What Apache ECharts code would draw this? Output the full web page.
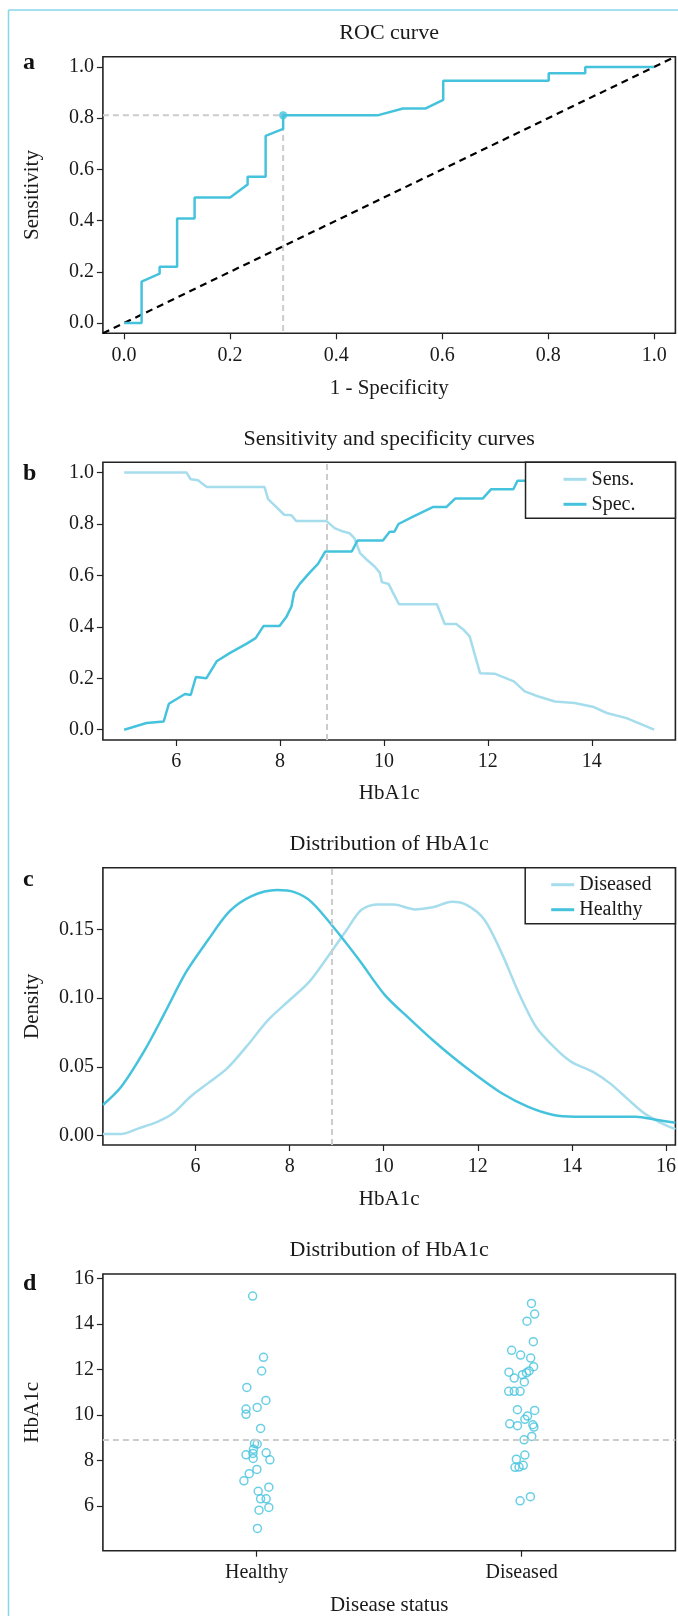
<!DOCTYPE html>
<html>
<head>
<meta charset="utf-8">
<script src="https://cdn.jsdelivr.net/npm/echarts@6.0.0/dist/echarts.min.js"></script>
<style>
  html, body { margin: 0; padding: 0; background: #fff; }
  #chart { width: 678px; height: 1616px; }
</style>
</head>
<body>
<div id="chart"></div>
<script>
const FONT = 'Liberation Serif';
const DARK = '#45c3dd';
const LIGHT = '#a6dded';
const GUIDE = '#cccccc';
const INK = '#1a1a1a';

// a: ROC curve
const rocFpr = [0, 0.033, 0.033, 0.067, 0.067, 0.1, 0.1, 0.133, 0.133, 0.2, 0.233, 0.233, 0.267, 0.267, 0.3, 0.3, 0.478, 0.526, 0.569, 0.602, 0.602, 0.801, 0.801, 0.87, 0.87, 1.0];
const rocTpr = [0, 0, 0.162, 0.193, 0.22, 0.22, 0.408, 0.408, 0.49, 0.49, 0.541, 0.571, 0.571, 0.731, 0.758, 0.811, 0.811, 0.838, 0.838, 0.871, 0.946, 0.946, 0.975, 0.975, 1.0, 1.0];
const cutFpr = 0.3;
const cutTpr = 0.811;
const cutoff = 8.9;
const unitRange = [-0.04, 1.04];
const unitTicks = [0, 0.2, 0.4, 0.6, 0.8, 1.0];

// b: sensitivity / specificity vs HbA1c
const sensX = [5.0, 6.2, 6.28, 6.42, 6.59, 7.70, 7.77, 7.93, 8.08, 8.22, 8.31, 8.89, 9.05, 9.18, 9.34, 9.43, 9.54, 9.66, 9.82, 9.92, 9.96, 10.09, 10.17, 10.29, 11.02, 11.17, 11.39, 11.52, 11.65, 11.74, 11.85, 12.13, 12.50, 12.71, 12.96, 13.29, 13.67, 14.04, 14.29, 14.67, 15.2];
const sensY = [1.0, 1.0, 0.974, 0.97, 0.944, 0.944, 0.897, 0.866, 0.836, 0.834, 0.812, 0.812, 0.784, 0.773, 0.764, 0.745, 0.687, 0.663, 0.635, 0.611, 0.574, 0.567, 0.534, 0.488, 0.488, 0.411, 0.411, 0.391, 0.363, 0.298, 0.22, 0.218, 0.188, 0.149, 0.13, 0.11, 0.104, 0.088, 0.065, 0.045, 0.0];
const specX = [5.0, 5.43, 5.76, 5.86, 6.17, 6.28, 6.38, 6.58, 6.78, 7.03, 7.35, 7.53, 7.68, 7.99, 8.12, 8.22, 8.27, 8.38, 8.57, 8.73, 8.87, 9.38, 9.49, 9.98, 10.11, 10.2, 10.28, 10.56, 10.94, 11.2, 11.37, 11.9, 12.06, 12.49, 12.57, 13.2, 13.4, 15.2];
const specY = [0, 0.026, 0.032, 0.101, 0.139, 0.135, 0.205, 0.2, 0.266, 0.298, 0.334, 0.356, 0.403, 0.403, 0.438, 0.479, 0.534, 0.567, 0.611, 0.645, 0.693, 0.693, 0.736, 0.736, 0.77, 0.77, 0.8, 0.829, 0.866, 0.866, 0.899, 0.899, 0.935, 0.935, 0.968, 0.968, 1.0, 1.0];
const hbTicksB = [6, 8, 10, 12, 14];

// c: density of HbA1c
const healthyDensX = [4.03, 4.42, 4.92, 5.34, 5.80, 6.26, 6.72, 7.18, 7.73, 8.10, 8.46, 8.92, 9.47, 10.03, 10.58, 11.04, 11.5, 11.96, 12.51, 13.06, 13.61, 14.07, 14.71, 15.36, 15.82, 16.2];
const healthyDens = [0.0223, 0.0356, 0.0622, 0.0889, 0.119, 0.142, 0.163, 0.174, 0.1785, 0.177, 0.170, 0.152, 0.128, 0.102, 0.084, 0.0695, 0.0562, 0.0441, 0.0308, 0.0211, 0.015, 0.0138, 0.0138, 0.0138, 0.0114, 0.0094];
const diseasedDensX = [4.03, 4.42, 4.79, 5.20, 5.52, 5.89, 6.26, 6.67, 7.08, 7.54, 8.0, 8.42, 8.83, 9.20, 9.52, 9.84, 10.21, 10.67, 11.04, 11.45, 11.77, 12.14, 12.51, 12.88, 13.24, 13.61, 13.98, 14.44, 14.81, 15.17, 15.54, 15.91, 16.2];
const diseasedDens = [0.0012, 0.0012, 0.0053, 0.0102, 0.0162, 0.0283, 0.038, 0.0489, 0.0647, 0.084, 0.0986, 0.112, 0.131, 0.149, 0.164, 0.168, 0.168, 0.1645, 0.166, 0.170, 0.1676, 0.157, 0.1325, 0.103, 0.079, 0.0647, 0.0538, 0.0465, 0.038, 0.0271, 0.0162, 0.009, 0.0048];
const hbTicksC = [6, 8, 10, 12, 14, 16];
const densTicks = [0, 0.05, 0.10, 0.15];

// d: jittered points by disease status
const statusLabels = ['Healthy', 'Diseased'];
const healthyPos = [0.985, 1.026, 1.019, 0.963, 1.035, 1.002, 0.96, 0.96, 1.015, 0.992, 1.002, 0.988, 0.986, 1.036, 0.96, 0.987, 1.05, 1.001, 0.972, 0.952, 1.046, 1.006, 1.015, 1.036, 1.046, 1.009, 1.003];
const healthyVal = [15.22, 12.53, 11.93, 11.21, 10.64, 10.33, 10.26, 10.03, 9.41, 8.75, 8.72, 8.49, 8.31, 8.34, 8.25, 8.09, 8.03, 7.61, 7.42, 7.11, 6.83, 6.65, 6.32, 6.32, 5.94, 5.82, 5.02];
const diseasedPos = [2.037, 2.049, 2.02, 2.044, 1.962, 1.996, 2.034, 2.045, 2.028, 1.952, 2.018, 2.003, 1.972, 2.01, 1.951, 1.972, 1.994, 1.984, 2.049, 2.022, 2.012, 1.955, 1.984, 2.042, 2.046, 2.038, 2.009, 2.012, 1.98, 1.975, 1.99, 2.006, 1.994, 2.033];
const diseasedVal = [14.90, 14.43, 14.12, 13.22, 12.84, 12.63, 12.50, 12.12, 11.93, 11.88, 11.85, 11.77, 11.62, 11.45, 11.04, 11.04, 11.04, 10.23, 10.20, 9.95, 9.81, 9.61, 9.53, 9.57, 9.47, 9.06, 8.91, 8.24, 8.06, 7.70, 7.71, 7.79, 6.23, 6.41];
const hbTicksD = [6, 8, 10, 12, 14, 16];

const zip = (xs, ys) => xs.map((x, i) => [x, ys[i]]);

const boxes = [
  { top: 56.7, height: 276.6 },
  { top: 462.3, height: 277.7 },
  { top: 867.7, height: 277.3 },
  { top: 1274, height: 276.7 }
];
const PLOT_LEFT = 102.9, PLOT_W = 572.5;
const midX = PLOT_LEFT + PLOT_W / 2;

function axis(gridIndex, min, max, ticks, fmt, name, nameGap, vertical) {
  return {
    type: 'value', gridIndex, min, max,
    name, nameLocation: 'middle', nameGap,
    nameTextStyle: { fontFamily: FONT, fontSize: 21, color: INK },
    axisLine: { show: false, onZero: false },
    axisTick: { show: true, length: 6, customValues: ticks, lineStyle: { color: '#222', width: 1.2 } },
    axisLabel: { customValues: ticks, formatter: fmt, margin: vertical ? 9 : 12, fontFamily: FONT, fontSize: 20, color: INK },
    splitLine: { show: false }
  };
}

const f1 = v => v.toFixed(1);
const f2 = v => v.toFixed(2);
const f0 = v => String(Math.round(v));

const chart = echarts.init(document.getElementById('chart'));

const titles = ['ROC curve', 'Sensitivity and specificity curves', 'Distribution of HbA1c', 'Distribution of HbA1c'];
const titleY = [33.3, 439, 844.5, 1250.5];
const letters = ['a', 'b', 'c', 'd'];
const letterY = [63, 474, 880, 1284];

const graphic = [
  { type: 'line', shape: { x1: 8.5, y1: 10, x2: 678, y2: 10 }, style: { stroke: '#88d6e8', lineWidth: 1.5 } },
  { type: 'line', shape: { x1: 8.5, y1: 10, x2: 8.5, y2: 1616 }, style: { stroke: '#88d6e8', lineWidth: 1.5 } }
];
titles.forEach((t, i) => {
  graphic.push({ type: 'text', x: midX, y: titleY[i], style: { text: t, fontFamily: FONT, fontSize: 22, fill: INK, textAlign: 'center', textVerticalAlign: 'middle' } });
  graphic.push({ type: 'text', x: 23, y: letterY[i], style: { text: letters[i], fontFamily: FONT, fontWeight: 'bold', fontSize: 24, fill: '#111', textAlign: 'left', textVerticalAlign: 'middle' } });
});

const dashedCut = {
  silent: true, symbol: 'none', label: { show: false },
  lineStyle: { color: GUIDE, width: 2, type: [6, 4] }
};

const legendBase = {
  orient: 'vertical', right: 678 - PLOT_LEFT - PLOT_W,
  icon: 'rect', itemWidth: 23, itemHeight: 3, itemGap: 5,
  borderColor: '#222', borderWidth: 1.5, backgroundColor: '#fff',
  selectedMode: false,
  textStyle: { fontFamily: FONT, fontSize: 20, color: INK, lineHeight: 20 }
};

const option = {
  animation: false,
  backgroundColor: '#fff',
  graphic,
  grid: boxes.map(b => ({
    left: PLOT_LEFT, width: PLOT_W, top: b.top, height: b.height,
    show: true, borderColor: '#222', borderWidth: 1.6, outerBoundsMode: 'none'
  })),
  xAxis: [
    axis(0, unitRange[0], unitRange[1], unitTicks, f1, '1 - Specificity', 45, false),
    axis(1, 4.59, 15.61, hbTicksB, f0, 'HbA1c', 43, false),
    axis(2, 4.03, 16.2, hbTicksC, f0, 'HbA1c', 44, false),
    axis(3, 0.42, 2.58, [1, 2], v => statusLabels[Math.round(v) - 1], 'Disease status', 44, false)
  ],
  yAxis: [
    axis(0, unitRange[0], unitRange[1], unitTicks, f1, 'Sensitivity', 60, true),
    axis(1, unitRange[0], unitRange[1], unitTicks, f1, '', 60, true),
    axis(2, -0.0068, 0.1948, densTicks, f2, 'Density', 60, true),
    axis(3, 4.04, 16.19, hbTicksD, f0, 'HbA1c', 60, true)
  ],
  legend: [
    Object.assign({}, legendBase, { data: ['Sens.', 'Spec.'], top: boxes[1].top, padding: [7, 40, 4, 38] }),
    Object.assign({}, legendBase, { data: ['Diseased', 'Healthy'], top: boxes[2].top, padding: [7, 24, 4, 26] })
  ],
  series: [
    // a
    {
      type: 'line', xAxisIndex: 0, yAxisIndex: 0, symbol: 'none', silent: true,
      data: [[unitRange[0], cutTpr], [cutFpr, cutTpr], [cutFpr, unitRange[0]]],
      lineStyle: { color: GUIDE, width: 2, type: [6, 4] }, z: 1
    },
    {
      type: 'line', xAxisIndex: 0, yAxisIndex: 0, symbol: 'none', silent: true,
      data: unitRange.map(v => [v, v]),
      lineStyle: { color: '#000', width: 2.2, type: [7, 5] }, z: 2
    },
    {
      name: 'ROC', type: 'line', xAxisIndex: 0, yAxisIndex: 0, symbol: 'none',
      data: zip(rocFpr, rocTpr),
      lineStyle: { color: DARK, width: 2.5 }, z: 3
    },
    {
      type: 'scatter', xAxisIndex: 0, yAxisIndex: 0, symbolSize: 8,
      data: [[cutFpr, cutTpr]], itemStyle: { color: DARK }, z: 4
    },
    // b
    {
      name: 'Sens.', type: 'line', xAxisIndex: 1, yAxisIndex: 1, symbol: 'none',
      data: zip(sensX, sensY), color: LIGHT,
      lineStyle: { color: LIGHT, width: 2.5 },
      markLine: Object.assign({ data: [{ xAxis: cutoff }] }, dashedCut)
    },
    {
      name: 'Spec.', type: 'line', xAxisIndex: 1, yAxisIndex: 1, symbol: 'none',
      data: zip(specX, specY), color: DARK,
      lineStyle: { color: DARK, width: 2.5 }
    },
    // c
    {
      name: 'Diseased', type: 'line', xAxisIndex: 2, yAxisIndex: 2, symbol: 'none', smooth: 0.3,
      data: zip(diseasedDensX, diseasedDens), color: LIGHT,
      lineStyle: { color: LIGHT, width: 2.5 },
      markLine: Object.assign({ data: [{ xAxis: cutoff }] }, dashedCut)
    },
    {
      name: 'Healthy', type: 'line', xAxisIndex: 2, yAxisIndex: 2, symbol: 'none', smooth: 0.3,
      data: zip(healthyDensX, healthyDens), color: DARK,
      lineStyle: { color: DARK, width: 2.5 }
    },
    // d
    {
      name: 'Healthy points', type: 'scatter', xAxisIndex: 3, yAxisIndex: 3,
      symbol: 'circle', symbolSize: 8,
      data: zip(healthyPos, healthyVal),
      itemStyle: { color: 'rgba(0,0,0,0)', borderColor: DARK, borderWidth: 1.5 },
      markLine: Object.assign({ data: [{ yAxis: cutoff }] }, dashedCut)
    },
    {
      name: 'Diseased points', type: 'scatter', xAxisIndex: 3, yAxisIndex: 3,
      symbol: 'circle', symbolSize: 8,
      data: zip(diseasedPos, diseasedVal),
      itemStyle: { color: 'rgba(0,0,0,0)', borderColor: DARK, borderWidth: 1.5 }
    }
  ]
};

chart.setOption(option);
</script>
</body>
</html>
